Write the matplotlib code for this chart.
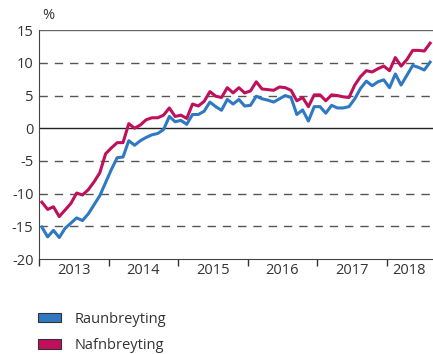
import numpy as np
import matplotlib.pyplot as plt
from matplotlib.patches import Patch

plt.rcParams['font.family'] = ['Open Sans', 'DejaVu Sans']

# Monthly 12-month change, Jan 2013 - Aug 2018 (%)
raun = [-15.1, -16.6, -15.6, -16.7, -15.3, -14.5, -13.7, -14.1, -13.1, -11.7,
        -10.3, -8.3, -6.3, -4.5, -4.4, -1.9, -2.6, -1.9, -1.4, -1.0,
        -0.8, -0.2, 1.8, 1.0, 1.2, 0.6, 2.1, 2.1, 2.6, 4.0,
        3.3, 2.75, 4.4, 3.7, 4.4, 3.4, 3.5, 4.9, 4.5, 4.3,
        4.0, 4.5, 5.0, 4.7, 2.1, 2.8, 1.1, 3.3, 3.3, 2.3,
        3.5, 3.1, 3.1, 3.3, 4.5, 6.1, 7.2, 6.5, 7.1, 7.4,
        6.2, 8.3, 6.6, 8.1, 9.6, 9.3, 8.9, 10.1]
nafn = [-11.3, -12.4, -12.0, -13.5, -12.5, -11.5, -9.9, -10.2, -9.4, -8.2,
        -6.8, -3.9, -3.0, -2.2, -2.2, 0.7, 0.0, 0.5, 1.3, 1.6,
        1.6, 2.0, 3.1, 1.8, 2.0, 1.5, 3.7, 3.4, 4.1, 5.6,
        4.9, 4.7, 6.2, 5.4, 6.2, 5.4, 5.7, 7.1, 6.0, 5.9,
        5.8, 6.3, 6.2, 5.8, 4.2, 4.7, 3.3, 5.1, 5.1, 4.2,
        5.1, 5.0, 4.8, 4.7, 6.6, 7.9, 8.8, 8.6, 9.1, 9.5,
        8.8, 10.8, 9.5, 10.5, 11.9, 11.9, 11.8, 13.0]
years = ['2013', '2014', '2015', '2016', '2017', '2018']
labels = ['Raunbreyting', 'Nafnbreyting']
blue = '#2f78c2'
red = '#c0105c'

x = 2013 + (np.arange(len(raun)) + 0.5) / 12

fig = plt.figure(figsize=(4.33, 3.54), dpi=100)
ax = fig.add_axes([0.09, 0.268, 0.91, 0.647])

for v in [-15, -10, -5, 5, 10]:
    ax.axhline(v, color='#555555', lw=1.0, dashes=(6, 5), zorder=1)
ax.axhline(0, color='#222222', lw=1.0, zorder=1)
ax.axhline(15, color='#666666', lw=1.0, zorder=1)

ax.plot(x, raun, color=blue, lw=2.2, zorder=3)
ax.plot(x, nafn, color=red, lw=2.2, zorder=3)

ax.set_xlim(2013, 2013 + 68 / 12)
ax.set_ylim(-20, 15)
ax.set_yticks(range(-20, 16, 5))
ax.set_yticklabels([str(v) for v in range(-20, 16, 5)])
ax.tick_params(axis='y', length=0, labelsize=10.5, colors='#333333', pad=4)

# year boundaries as ticks, year names centred between them
ax.set_xticks([2013 + i for i in range(6)])
ax.set_xticklabels([])
ax.set_xticks([2013.5 + i for i in range(5)] + [2018.32], minor=True)
ax.set_xticklabels(years, minor=True)
ax.tick_params(axis='x', which='major', direction='out', length=5, width=1, color='#333333')
ax.tick_params(axis='x', which='minor', length=0, labelsize=10.5, colors='#333333', pad=3)

for s in ['top', 'right']:
    ax.spines[s].set_visible(False)
ax.spines['left'].set_color('#444444')
ax.spines['bottom'].set_color('#444444')

fig.text(0.097, 0.935, '%', fontsize=10.5, color='#333333', ha='left', va='bottom')

handles = [Patch(facecolor=blue, edgecolor='#333333', lw=0.8),
           Patch(facecolor=red, edgecolor='#333333', lw=0.8)]
fig.legend(handles, labels, loc='upper left', bbox_to_anchor=(0.088, 0.119),
           frameon=False, fontsize=10.5, handlelength=1.6, handleheight=0.6,
           handletextpad=0.9, labelspacing=0.78, labelcolor='#333333',
           borderaxespad=0, borderpad=0)

fig.savefig('out.png', dpi=100)
